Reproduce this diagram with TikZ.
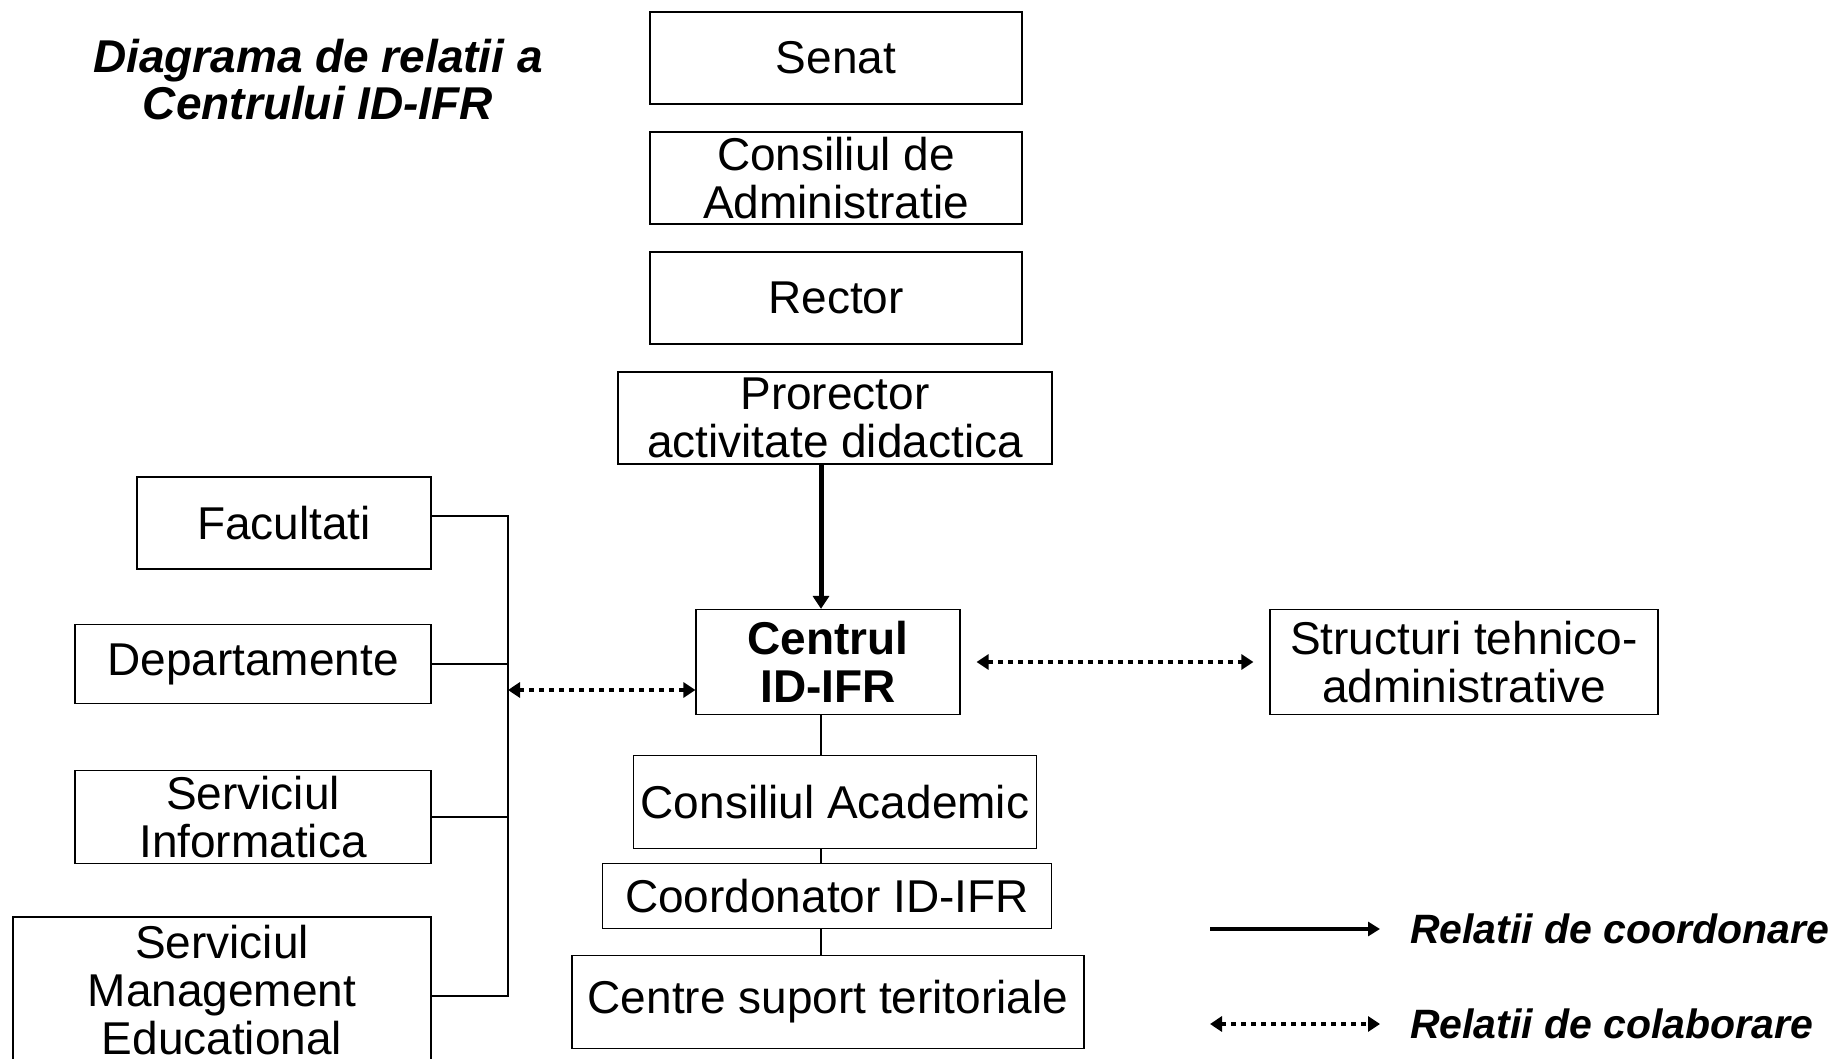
\documentclass[tikz,border=0pt]{standalone}
\usepackage{fontspec}
\setmainfont{Liberation Sans}
\usetikzlibrary{arrows.meta}

\tikzset{
  box/.style={draw, line width=0.6pt, inner sep=0pt, align=center,
    font=\fontsize{23}{24}\selectfont},
  coord/.style={line width=2.5pt, -{Triangle[length=6.5pt,width=8pt]}},
  collab/.style={line width=1.8pt, dash pattern=on 2.5pt off 2.5pt,
    {Triangle[length=6pt,width=7.5pt]}-{Triangle[length=6pt,width=7.5pt]}},
  legtext/.style={anchor=west, font=\fontsize{20.5}{24}\selectfont\bfseries\itshape}
}

\begin{document}
\begin{tikzpicture}[x=0.5pt, y=-0.5pt]
\useasboundingbox (0,0) rectangle (1833,1059);

% title
\node(title) at (318,80) [align=center, font=\fontsize{23}{23.5}\selectfont\bfseries\itshape]
  {Diagrama de relatii a\\Centrului ID-IFR};

% central column
\node(senat) at (836,58) [box, minimum width=186pt, minimum height=46pt] {Senat};
\node(ca) at (836,178) [box, minimum width=186pt, minimum height=46pt] {Consiliul de\\Administratie};
\node(rector) at (836,298) [box, minimum width=186pt, minimum height=46pt] {Rector};
\node(prorector) at (835,418) [box, minimum width=217pt, minimum height=46pt] {Prorector\\activitate didactica};
\node(centrul) at (828,662) [box, minimum width=132pt, minimum height=52.5pt, font=\fontsize{23}{24}\selectfont\bfseries] {Centrul\\ID-IFR};
\node(cacad) at (835,802) [box, minimum width=201.5pt, minimum height=46.5pt] {Consiliul Academic};
\node(coord) at (827,896) [box, minimum width=224.5pt, minimum height=32.5pt] {Coordonator ID-IFR};
\node(centre) at (828,1002) [box, minimum width=256pt, minimum height=46.5pt] {Centre suport teritoriale};

% right
\node(struct) at (1464,662) [box, minimum width=194pt, minimum height=52.5pt] {Structuri tehnico-\\administrative};

% left column
\node(fac) at (284,523) [box, minimum width=147pt, minimum height=46pt] {Facultati};
\node(dep) at (253,664) [box, minimum width=178pt, minimum height=39.5pt] {Departamente};
\node(si) at (253,817) [box, minimum width=178pt, minimum height=46.5pt] {Serviciul\\Informatica};
\node(sme) at (222,990) [box, minimum width=209pt, minimum height=73pt] {Serviciul\\Management\\Educational};

\coordinate(axis) at (821,0);
\coordinate(bus) at (508,0);
\coordinate(link) at (508,690);

% connectors
\draw[coord] (prorector.south -| axis) -- (centrul.north -| axis);
\draw[line width=0.6pt] (centrul.south -| axis) -- (cacad.north -| axis);
\draw[line width=0.6pt] (cacad.south -| axis) -- (coord.north -| axis);
\draw[line width=0.6pt] (coord.south -| axis) -- (centre.north -| axis);

\draw[line width=0.6pt] (fac.east |- 0,516) -- (bus |- 0,516) -- (bus |- 0,996) -- (sme.east |- 0,996);
\draw[line width=0.6pt] (dep.east) -- (dep.east -| bus);
\draw[line width=0.6pt] (si.east) -- (si.east -| bus);

\draw[collab] (link) -- (link -| centrul.west);
\draw[collab, shorten <=8pt, shorten >=8pt] (centrul.east) -- (struct.west);

% legend
\coordinate(leg1) at (1210,929);
\coordinate(leg2) at (1210,1024);
\node(legcoord) at (1403,929) [legtext] {Relatii de coordonare};
\node(legcolab) at (1403,1024) [legtext] {Relatii de colaborare};
\draw[line width=2pt, -{Triangle[length=6pt,width=7pt]}] (leg1) -- ++(170,0);
\draw[collab] (leg2) -- ++(170,0);

\end{tikzpicture}
\end{document}
